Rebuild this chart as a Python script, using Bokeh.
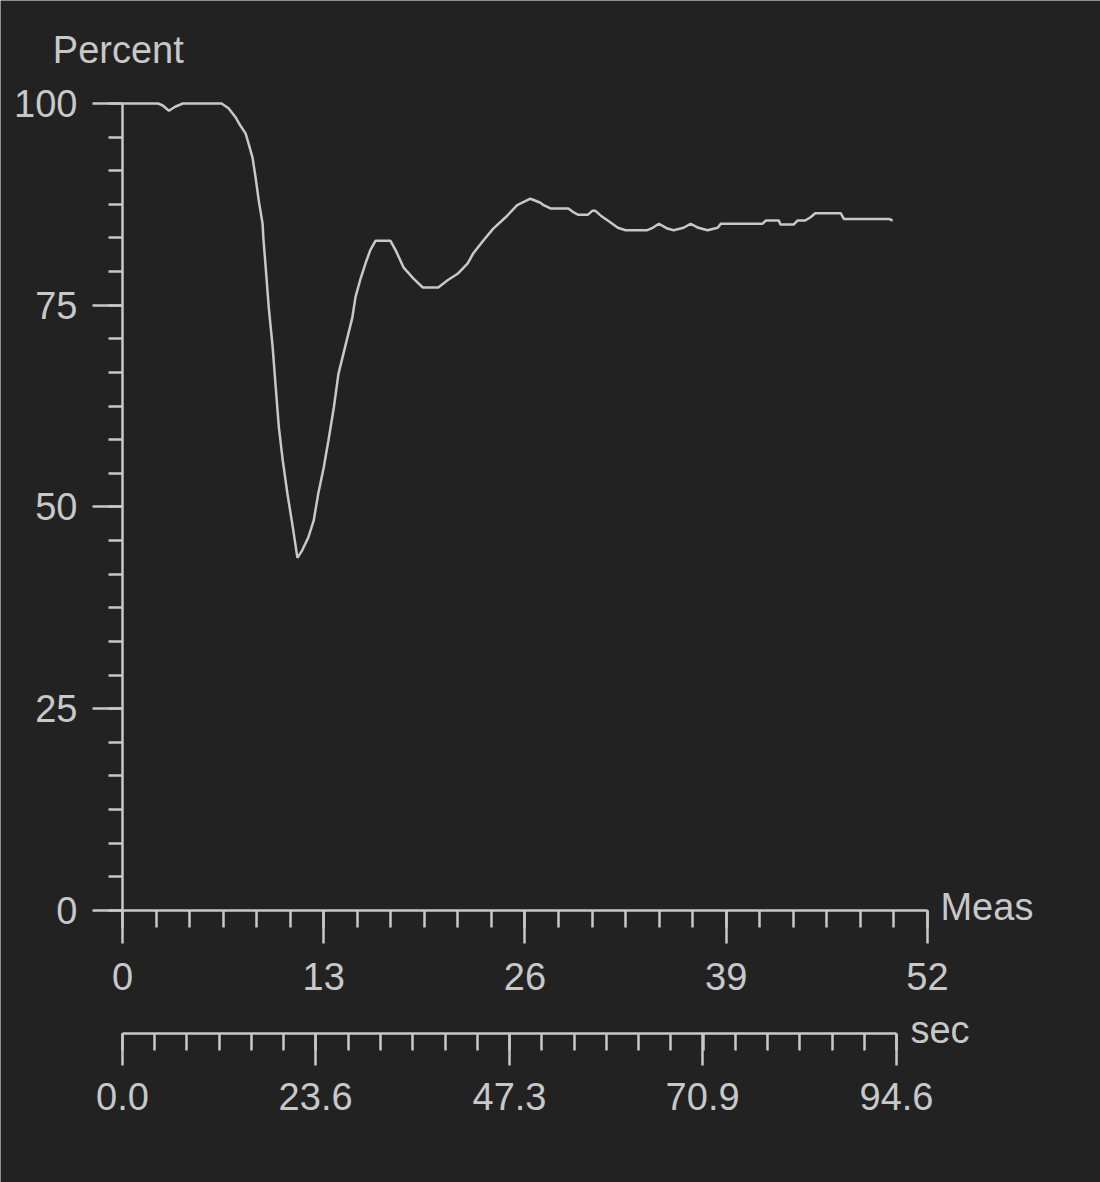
from bokeh.plotting import figure
from bokeh.models import LinearAxis, Range1d, FixedTicker, Label, ColumnDataSource
from bokeh.embed import file_html
from bokeh.resources import INLINE

# ---- data ----
meas = [0, 0.5, 2.3, 2.6, 3.0, 3.4, 3.9, 6.4, 6.85, 7.3, 7.6, 7.95, 8.15, 8.4, 8.6, 8.8, 9.05, 9.1,
        9.25, 9.45, 9.7, 9.9, 10.1, 10.35, 10.65, 11.0, 11.3,
        11.6, 12.0, 12.35, 12.65, 13.0, 13.3, 13.65, 13.95, 14.85, 15.05, 15.35, 15.7, 16.0, 16.35,
        17.3, 17.65, 18.15, 18.8, 19.4, 20.4, 21.0, 21.65, 22.3, 22.65, 23.3, 23.95, 24.75, 25.5, 26.35, 27.0,
        27.2, 27.65, 28.8, 29.15, 29.45, 30.05, 30.35, 30.55, 30.9, 31.35, 32.0, 32.5, 33.9, 34.25, 34.65,
        35.2, 35.6, 36.25, 36.7, 37.2, 37.8, 38.45,
        38.65, 41.35, 41.55, 42.4, 42.5, 43.35, 43.6, 44.1, 44.45, 44.75, 46.4, 46.6, 49.5, 49.75]
percent = [100, 100, 100, 99.75, 99.1, 99.6, 100, 100, 99.4, 98.3, 97.3, 96.3, 95.0, 93.3, 90.8, 88.0, 85.1, 83.3,
           79.7, 74.7, 69.8, 64.8, 59.9, 55.8, 51.7, 47.5, 43.7,
           44.6, 46.2, 48.3, 51.7, 54.9, 58.2, 62.3, 66.5, 73.5, 76.0, 78.1, 80.2, 81.8, 83.0,
           83.0, 81.8, 79.7, 78.3, 77.2, 77.2, 78.1, 78.9, 80.2, 81.4, 83.0, 84.5, 85.9, 87.4, 88.2, 87.7,
           87.4, 87.0, 87.0, 86.5, 86.2, 86.2, 86.7, 86.7, 86.1, 85.5, 84.6, 84.3, 84.3, 84.6, 85.1,
           84.5, 84.3, 84.6, 85.1, 84.6, 84.3, 84.6,
           85.1, 85.1, 85.5, 85.5, 85.0, 85.0, 85.5, 85.5, 85.9, 86.4, 86.4, 85.7, 85.7, 85.5]

meas_ticks = [0, 13, 26, 39, 52]
percent_ticks = [0, 25, 50, 75, 100]
sec_ticks = [0.0, 23.6, 47.3, 70.9, 94.6]
sec_labels = ["0.0", "23.6", "47.3", "70.9", "94.6"]
meas_max = 52
percent_max = 100
sec_total = 94.6          # seconds covered by 50 measurements
sec_meas = 50
sec_per_meas = sec_total / sec_meas

BG = "#222222"
FG = "#c8c8c8"
FONT = "Liberation Sans"
FS = "38px"
LW = 2.5

W, H = 1100, 1182
# the whole canvas is the plot frame; axes are pinned to data positions
x_lo, x_hi = -7.881, 63.178
y_lo, y_hi = -33.705, 112.763

p = figure(width=W, height=H,
           x_range=Range1d(x_lo, x_hi), y_range=Range1d(y_lo, y_hi),
           x_axis_type=None, y_axis_type=None,
           output_backend="svg", toolbar_location=None,
           background_fill_color=BG, border_fill_color=BG,
           min_border=0, min_border_left=0, min_border_right=0,
           min_border_top=0, min_border_bottom=0)
p.outline_line_color = None
p.xgrid.visible = False
p.ygrid.visible = False

p.extra_x_ranges = {"sec": Range1d(x_lo * sec_per_meas, x_hi * sec_per_meas)}


def style(ax, tick_out, minor_out, standoff):
    ax.axis_line_color = FG
    ax.axis_line_width = LW
    ax.major_tick_line_color = FG
    ax.major_tick_line_width = LW
    ax.minor_tick_line_color = FG
    ax.minor_tick_line_width = LW
    ax.major_tick_in = 0
    ax.minor_tick_in = 0
    ax.major_tick_out = tick_out
    ax.minor_tick_out = minor_out
    ax.major_label_text_font = FONT
    ax.major_label_text_font_size = FS
    ax.major_label_text_color = FG
    ax.major_label_standoff = standoff


def minors(lo, hi, n):
    step = (hi - lo) / n
    return [lo + step * k for k in range(n + 1)]


yaxis = LinearAxis(ticker=FixedTicker(ticks=percent_ticks, minor_ticks=minors(0, percent_max, 24)),
                   bounds=(0, percent_max), fixed_location=0)
style(yaxis, 30, 14, 15)
p.add_layout(yaxis, "left")

xaxis = LinearAxis(ticker=FixedTicker(ticks=meas_ticks, minor_ticks=minors(0, meas_max, 24)),
                   bounds=(0, meas_max), fixed_location=0)
style(xaxis, 33, 17, 20)
p.add_layout(xaxis, "below")

saxis = LinearAxis(x_range_name="sec",
                   ticker=FixedTicker(ticks=sec_ticks, minor_ticks=minors(0, sec_total, 24)),
                   bounds=(0, sec_total), fixed_location=-15.24,
                   major_label_overrides={t: l for t, l in zip(sec_ticks, sec_labels)})
style(saxis, 32, 17, 18)
p.add_layout(saxis, "below")

src = ColumnDataSource(dict(meas=meas, percent=percent))
p.line("meas", "percent", source=src, line_color=FG, line_width=LW)

for txt, x, y in [("Percent", -4.5, 106.6), ("Meas", 52.84, 0.4), ("sec", 50.9, -14.75)]:
    p.add_layout(Label(x=x, y=y, text=txt, text_font=FONT, text_font_size=FS,
                       text_color=FG, text_baseline="alphabetic", text_align="left"))

open("out.html", "w").write(file_html(p, INLINE))
